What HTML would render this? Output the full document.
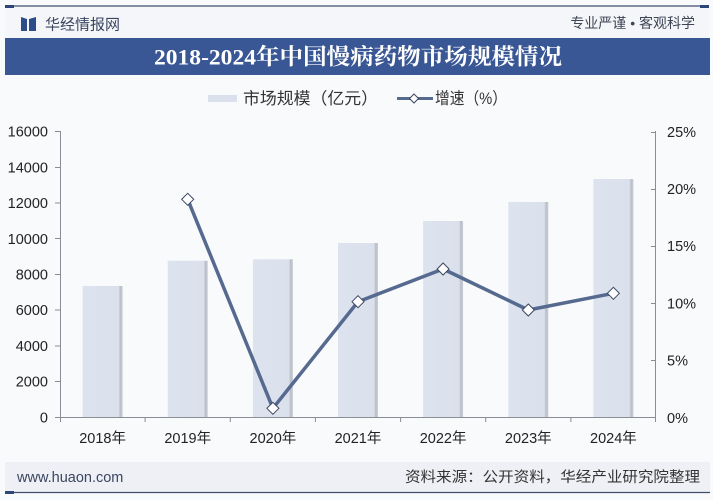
<!DOCTYPE html>
<html><head><meta charset="utf-8">
<style>
html,body{margin:0;padding:0;}
body{width:713px;height:500px;overflow:hidden;background:#f8f9fc;}
svg{display:block;}
</style></head>
<body>
<svg width="713" height="500" viewBox="0 0 713 500" xmlns="http://www.w3.org/2000/svg">
<defs>
<linearGradient id="bar" x1="0" x2="1" y1="0" y2="0">
<stop offset="0" stop-color="#dde3ee"/>
<stop offset="0.9" stop-color="#dbe1ec"/>
<stop offset="0.94" stop-color="#b9bec8"/>
<stop offset="1" stop-color="#c9cdd4"/>
</linearGradient>
</defs>
<rect x="0" y="0" width="713" height="500" fill="#f9fafc"/>
<!-- header -->
<rect x="5" y="7" width="704" height="31" fill="#f5f6f9"/>
<line x1="5" y1="6" x2="709" y2="6" stroke="#3f4d6d" stroke-width="1.2"/>
<rect x="5" y="5" width="9" height="3" fill="#2e4577"/>
<rect x="700" y="5" width="9" height="3" fill="#2e4577"/>
<path d="M21 17 L27 19 L27 31 L21 31 Z" fill="#2d4c8a"/>
<path d="M29 19 L36 17 L36 31 L29 31 Z" fill="#2d4c8a"/>
<text x="45" y="29.5" font-family="'Liberation Sans','Noto Sans CJK SC',sans-serif" font-size="15" fill="#3a4560">华经情报网</text>
<text x="695" y="28" text-anchor="end" font-family="'Liberation Sans','Noto Sans CJK SC',sans-serif" font-size="14" fill="#3e4555">专业严谨 • 客观科学</text>
<!-- title bar -->
<rect x="5" y="38" width="705" height="37" fill="#3a5795"/>
<text x="358" y="64.5" text-anchor="middle" font-family="'Liberation Serif','Noto Serif CJK SC',serif" font-weight="bold" font-size="22.5" fill="#ffffff" textLength="408" lengthAdjust="spacingAndGlyphs">2018-2024年中国慢病药物市场规模情况</text>
<!-- legend -->
<rect x="208" y="95" width="29" height="7" fill="#dbe1ec"/>
<text x="243" y="104" font-family="'Liberation Sans','Noto Sans CJK SC',sans-serif" font-size="16.5" fill="#333" textLength="135" lengthAdjust="spacingAndGlyphs">市场规模（亿元）</text>
<line x1="397" y1="98.5" x2="433" y2="98.5" stroke="#56698f" stroke-width="3"/>
<path d="M414 94 L418.5 98.5 L414 103 L409.5 98.5 Z" fill="#fff" stroke="#3a4560" stroke-width="1"/>
<text x="435" y="104" font-family="'Liberation Sans','Noto Sans CJK SC',sans-serif" font-size="16.5" fill="#333" textLength="72" lengthAdjust="spacingAndGlyphs">增速（%）</text>
<!-- bars -->
<g fill="url(#bar)">
<rect x="82.6" y="286" width="40" height="131"/>
<rect x="167.7" y="260.7" width="40" height="156.3"/>
<rect x="252.9" y="259.3" width="40" height="157.7"/>
<rect x="338" y="243" width="40" height="174"/>
<rect x="423.1" y="221" width="40" height="196"/>
<rect x="508.3" y="202" width="40" height="215"/>
<rect x="593.4" y="179" width="40" height="238"/>
</g>
<!-- axes -->
<g stroke="#8a8d94" stroke-width="1" fill="none">
<line x1="60.5" y1="131" x2="60.5" y2="417.5"/>
<line x1="655.5" y1="131" x2="655.5" y2="417.5"/>
<line x1="60" y1="417.5" x2="656" y2="417.5"/>
<path d="M55 131.5H60 M55 167.5H60 M55 203H60 M55 238.5H60 M55 274.5H60 M55 310H60 M55 346H60 M55 381.5H60 M55 417.5H60"/>
<path d="M651 132.5H656 M651 189.5H656 M651 246.5H656 M651 303.5H656 M651 360.5H656 M651 417.5H656"/>
<path d="M145.1 417V422 M230.3 417V422 M315.4 417V422 M400.6 417V422 M485.7 417V422 M570.9 417V422 M60.5 417V422 M655.5 417V422"/>
</g>
<!-- y labels left -->
<g font-family="'Liberation Sans',sans-serif" font-size="14.5" fill="#222" text-anchor="end">
<text x="48" y="136.5">16000</text>
<text x="48" y="172.5">14000</text>
<text x="48" y="208">12000</text>
<text x="48" y="244">10000</text>
<text x="48" y="279.5">8000</text>
<text x="48" y="315">6000</text>
<text x="48" y="351">4000</text>
<text x="48" y="386.5">2000</text>
<text x="48" y="422.5">0</text>
</g>
<!-- y labels right -->
<g font-family="'Liberation Sans',sans-serif" font-size="14.5" fill="#222">
<text x="667" y="137">25%</text>
<text x="667" y="194">20%</text>
<text x="667" y="251">15%</text>
<text x="667" y="308.5">10%</text>
<text x="667" y="365.5">5%</text>
<text x="667" y="423">0%</text>
</g>
<!-- x labels -->
<g font-family="'Liberation Sans','Noto Sans CJK SC',sans-serif" font-size="14.5" fill="#222" text-anchor="middle">
<text x="102.6" y="443">2018年</text>
<text x="187.7" y="443">2019年</text>
<text x="272.9" y="443">2020年</text>
<text x="358" y="443">2021年</text>
<text x="443.1" y="443">2022年</text>
<text x="528.3" y="443">2023年</text>
<text x="613.4" y="443">2024年</text>
</g>
<!-- line -->
<polyline points="187.7,199.3 272.9,408.3 358,301.7 443.1,269 528.3,310 613.4,293.3" fill="none" stroke="#56698f" stroke-width="3.5" stroke-linejoin="round"/>
<g fill="#fff" stroke="#3a4560" stroke-width="1">
<path d="M187.7 193.3 L193.7 199.3 L187.7 205.3 L181.7 199.3 Z"/>
<path d="M272.9 402.3 L278.9 408.3 L272.9 414.3 L266.9 408.3 Z"/>
<path d="M358 295.7 L364 301.7 L358 307.7 L352 301.7 Z"/>
<path d="M443.1 263 L449.1 269 L443.1 275 L437.1 269 Z"/>
<path d="M528.3 304 L534.3 310 L528.3 316 L522.3 310 Z"/>
<path d="M613.4 287.3 L619.4 293.3 L613.4 299.3 L607.4 293.3 Z"/>
</g>
<!-- footer -->
<rect x="5" y="462" width="705" height="30" fill="#eef0f5"/>
<line x1="5" y1="492.5" x2="710" y2="492.5" stroke="#3f4d6d" stroke-width="1.2"/>
<rect x="5" y="491" width="9" height="3" fill="#2e4577"/>
<text x="17" y="482" font-family="'Liberation Sans',sans-serif" font-size="14.5" fill="#3a4560">www.huaon.com</text>
<text x="700" y="482" text-anchor="end" font-family="'Liberation Sans','Noto Sans CJK SC',sans-serif" font-size="14.5" fill="#333" textLength="295" lengthAdjust="spacingAndGlyphs">资料来源：公开资料，华经产业研究院整理</text>
</svg>
</body></html>
